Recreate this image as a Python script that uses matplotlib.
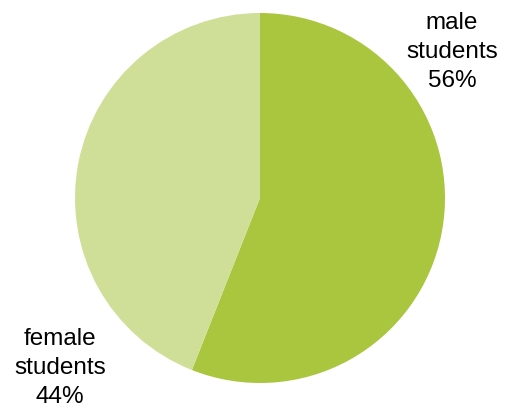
import matplotlib
matplotlib.use("Agg")
import matplotlib.pyplot as plt

categories = ["male\nstudents", "female\nstudents"]
values = [56, 44]
colors = ["#A9C63E", "#D0DF97"]

W, H = 508, 410
fig = plt.figure(figsize=(W / 100, H / 100), dpi=100)
plt.rcParams['font.family'] = ['Liberation Sans', 'DejaVu Sans']

cx, cy, r = 260, 199, 185
ax = fig.add_axes([(cx - r) / W, (H - cy - r) / H, 2 * r / W, 2 * r / H])
ax.pie(values, colors=colors, startangle=90, counterclock=False,
       wedgeprops=dict(linewidth=0))
ax.set_aspect('equal')
ax.set_xlim(-1, 1)
ax.set_ylim(-1, 1)
ax.axis('off')

label_pos = [(452, 52), (60, 368)]
for cat, v, (x, y) in zip(categories, values, label_pos):
    fig.text(x / W, 1 - y / H, f"{cat}\n{v}%", ha='center', va='center',
             fontsize=17.5, color='black', linespacing=1.4)

fig.savefig("out.png", dpi=100)
